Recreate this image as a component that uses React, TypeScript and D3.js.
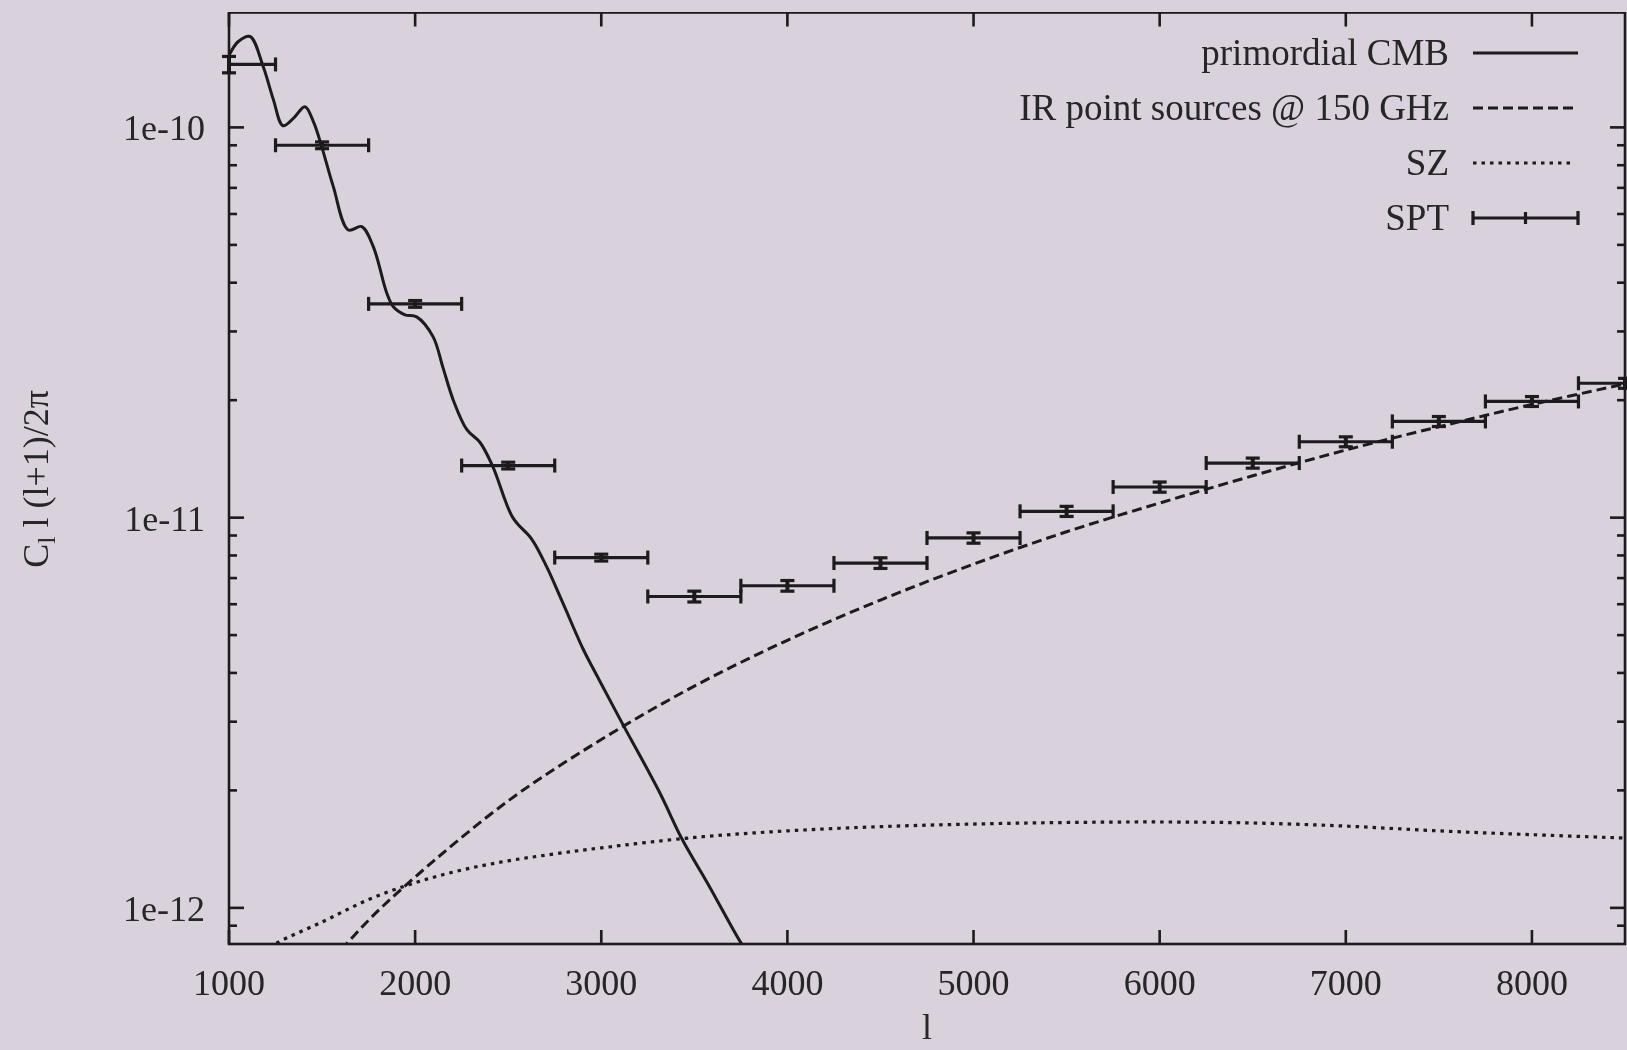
import React from "react";
import * as d3 from "d3";

// axis setup
const xDomain = [1000, 8500];
const yDomain = [8.08e-13, 1.97e-10];
const xTicks = [1000, 2000, 3000, 4000, 5000, 6000, 7000, 8000];
const yMajor = [1e-12, 1e-11, 1e-10];
const yMajorLabels = ["1e-12", "1e-11", "1e-10"];

// primordial CMB
const cmbL = [1000, 1050, 1113, 1184, 1238, 1290, 1350, 1408, 1455, 1498, 1560, 1641, 1713, 1775, 1848, 1883, 1945, 2008, 2096, 2150, 2205, 2278, 2348, 2418, 2525, 2627, 2707, 2790, 2901, 2957, 3118, 3315, 3431, 3583, 3753, 3820];
const cmbV = [1.53e-10, 1.66e-10, 1.71e-10, 1.43e-10, 1.18e-10, 1.01e-10, 1.06e-10, 1.13e-10, 1.03e-10, 8.93e-11, 7.06e-11, 5.46e-11, 5.57e-11, 4.95e-11, 3.76e-11, 3.47e-11, 3.31e-11, 3.27e-11, 2.91e-11, 2.42e-11, 2.0e-11, 1.68e-11, 1.56e-11, 1.35e-11, 1.0e-11, 8.8e-12, 7.48e-12, 6.1e-12, 4.62e-12, 4.1e-12, 2.94e-12, 1.97e-12, 1.51e-12, 1.13e-12, 8.1e-13, 7.3e-13];

// IR point sources @ 150 GHz
const irL = [1550, 1750, 2000, 2500, 3000, 3500, 4000, 4500, 5000, 5500, 6000, 6500, 7000, 7500, 8000, 8500];
const irV = [7.3e-13, 9.3e-13, 1.2e-12, 1.88e-12, 2.7e-12, 3.7e-12, 4.85e-12, 6.15e-12, 7.6e-12, 9.2e-12, 1.09e-11, 1.28e-11, 1.49e-11, 1.71e-11, 1.95e-11, 2.2e-11];

// SZ
const szL = [1100, 1250, 1500, 1750, 2000, 2250, 2500, 2750, 3000, 3500, 4000, 4500, 5000, 5500, 6000, 6500, 7000, 7500, 8000, 8500];
const szV = [7.3e-13, 8.1e-13, 9.2e-13, 1.05e-12, 1.16e-12, 1.25e-12, 1.32e-12, 1.375e-12, 1.425e-12, 1.515e-12, 1.575e-12, 1.615e-12, 1.64e-12, 1.655e-12, 1.66e-12, 1.65e-12, 1.62e-12, 1.575e-12, 1.54e-12, 1.51e-12];

// SPT band powers
const sptL = [1000, 1500, 2000, 2500, 3000, 3500, 4000, 4500, 5000, 5500, 6000, 6500, 7000, 7500, 8000, 8500];
const sptV = [1.45e-10, 9.0e-11, 3.53e-11, 1.36e-11, 7.9e-12, 6.28e-12, 6.69e-12, 7.65e-12, 8.87e-12, 1.038e-11, 1.198e-11, 1.38e-11, 1.565e-11, 1.764e-11, 1.985e-11, 2.21e-11];
const sptErr = [7e-12, 1.8e-12, 7e-13, 2.7e-13, 1.6e-13, 2.0e-13, 2.1e-13, 2.4e-13, 2.7e-13, 3.1e-13, 3.6e-13, 4.1e-13, 4.6e-13, 5.2e-13, 5.8e-13, 6.5e-13];
const sptHalfBin = [250, 250, 250, 250, 250, 250, 250, 250, 250, 250, 250, 250, 250, 250, 250, 250];

const legendLabels = ["primordial CMB", "IR point sources @ 150 GHz", "SZ", "SPT"];

const W = 1627;
const H = 1050;
const left = 229;
const right = 1625;
const top = 12.5;
const bottom = 944;
const ink = "#1a1a1a";
const textInk = "#252525";
const font = "'Liberation Serif', 'DejaVu Serif', serif";

export default function App() {
  const x = d3.scaleLinear().domain(xDomain).range([left, right]);
  const y = d3.scaleLog().domain(yDomain).range([bottom, top]);

  const line = d3
    .line<[number, number]>()
    .x((d) => x(d[0]))
    .y((d) => y(d[1]))
    .curve(d3.curveCatmullRom.alpha(0.5));

  const cmbPath = line(cmbL.map((l, i) => [l, cmbV[i]]) as [number, number][]);
  const irPath = line(irL.map((l, i) => [l, irV[i]]) as [number, number][]);
  const szPath = line(szL.map((l, i) => [l, szV[i]]) as [number, number][]);

  const yMinor: number[] = [];
  for (let e = -13; e <= -10; e++) {
    for (let k = 2; k <= 9; k++) {
      const v = k * Math.pow(10, e);
      if (v >= yDomain[0] && v <= yDomain[1]) yMinor.push(v);
    }
  }

  const legendX0 = 1473;
  const legendX1 = 1578;
  const legendY = [53, 108, 163, 218];

  return (
    <svg
      width={W}
      height={H}
      style={{ position: "absolute", left: 0, top: 0 }}
      fontFamily={font}
    >
      <defs>
        <clipPath id="plot">
          <rect x={left} y={top} width={right - left} height={bottom - top} />
        </clipPath>
        <filter id="soft" x="0" y="0" width="1" height="1">
          <feGaussianBlur stdDeviation="0.6" />
        </filter>
      </defs>
      <rect x={0} y={0} width={W} height={H} fill="#d9d2dc" />
      <g filter="url(#soft)">
        {/* curves */}
        <g clipPath="url(#plot)" fill="none">
          <path d={cmbPath || ""} stroke={ink} strokeWidth={3} />
          <path d={irPath || ""} stroke={ink} strokeWidth={3} strokeDasharray="10,5" />
          <path d={szPath || ""} stroke={ink} strokeWidth={3.2} strokeDasharray="3.5,5" />
        </g>

        {/* SPT error bars */}
        <g stroke={ink} strokeWidth={3.2} fill="none">
          {sptL.map((l, i) => {
            const cx = x(l);
            const cy = y(sptV[i]);
            const lo = l - sptHalfBin[i];
            const hi = l + sptHalfBin[i];
            const x0 = Math.max(x(lo), left);
            const x1 = Math.min(x(hi), right);
            const yTop = y(sptV[i] + sptErr[i]);
            const yBot = y(sptV[i] - sptErr[i]);
            return (
              <g key={l}>
                <line x1={x0} x2={x1} y1={cy} y2={cy} />
                {x(lo) >= left && <line x1={x(lo)} x2={x(lo)} y1={cy - 7} y2={cy + 7} />}
                {x(hi) <= right && <line x1={x(hi)} x2={x(hi)} y1={cy - 7} y2={cy + 7} />}
                <line x1={cx} x2={cx} y1={yTop} y2={yBot} strokeWidth={4} />
                <line x1={cx - 7} x2={cx + 7} y1={yTop} y2={yTop} />
                <line x1={cx - 7} x2={cx + 7} y1={yBot} y2={yBot} />
              </g>
            );
          })}
        </g>

        {/* frame and ticks */}
        <g stroke={ink} strokeWidth={2.6} fill="none">
          <rect x={left} y={top} width={right - left} height={bottom - top} />
          {xTicks.map((t) => (
            <g key={"xt" + t}>
              <line x1={x(t)} x2={x(t)} y1={bottom} y2={bottom - 14} />
              <line x1={x(t)} x2={x(t)} y1={top} y2={top + 14} />
            </g>
          ))}
          {yMajor.map((t) => (
            <g key={"ym" + t}>
              <line x1={left} x2={left + 15} y1={y(t)} y2={y(t)} />
              <line x1={right} x2={right - 15} y1={y(t)} y2={y(t)} />
            </g>
          ))}
          {yMinor.map((t) => (
            <g key={"yn" + t}>
              <line x1={left} x2={left + 8} y1={y(t)} y2={y(t)} />
              <line x1={right} x2={right - 8} y1={y(t)} y2={y(t)} />
            </g>
          ))}
        </g>

        {/* tick labels */}
        <g fill={textInk} fontSize={36}>
          {xTicks.map((t) => (
            <text key={"xl" + t} x={x(t)} y={995} textAnchor="middle">
              {t}
            </text>
          ))}
          {yMajor.map((t, i) => (
            <text key={"yl" + t} x={205} y={y(t) + 13} textAnchor="end">
              {yMajorLabels[i]}
            </text>
          ))}
        </g>

        {/* axis titles */}
        <text x={927} y={1039} fill={textInk} fontSize={36} textAnchor="middle">
          l
        </text>
        <text
          transform="translate(48,479) rotate(-90)"
          fill={textInk}
          fontSize={36}
          textAnchor="middle"
        >
          C<tspan fontSize={26} dy={7}>l</tspan>
          <tspan dy={-7}> l (l+1)/2π</tspan>
        </text>

        {/* legend */}
        <g fill={textInk} fontSize={37}>
          {legendLabels.map((lab, i) => (
            <text key={lab} x={1449} y={legendY[i] + 12} textAnchor="end">
              {lab}
            </text>
          ))}
        </g>
        <g stroke={ink} fill="none">
          <line x1={legendX0} x2={legendX1} y1={legendY[0]} y2={legendY[0]} strokeWidth={3} />
          <line x1={legendX0} x2={legendX1} y1={legendY[1]} y2={legendY[1]} strokeWidth={3} strokeDasharray="10,5" />
          <line x1={legendX0} x2={legendX1 - 6} y1={legendY[2]} y2={legendY[2]} strokeWidth={3.2} strokeDasharray="3.5,5" />
          <g strokeWidth={3.2}>
            <line x1={legendX0} x2={legendX1} y1={legendY[3]} y2={legendY[3]} />
            <line x1={legendX0} x2={legendX0} y1={legendY[3] - 7} y2={legendY[3] + 7} />
            <line x1={legendX1} x2={legendX1} y1={legendY[3] - 7} y2={legendY[3] + 7} />
            <line x1={(legendX0 + legendX1) / 2} x2={(legendX0 + legendX1) / 2} y1={legendY[3] - 6} y2={legendY[3] + 6} />
          </g>
        </g>
      </g>
    </svg>
  );
}
